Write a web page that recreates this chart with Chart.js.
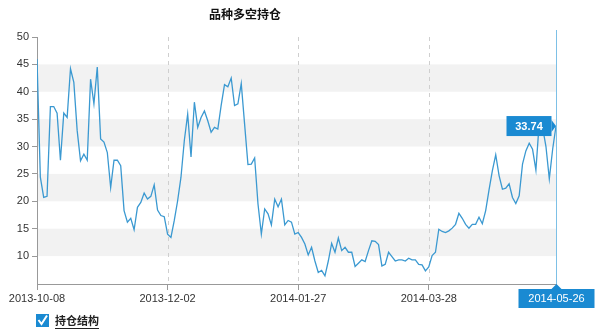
<!DOCTYPE html>
<html>
<head>
<meta charset="utf-8">
<script src="https://cdn.jsdelivr.net/npm/chart.js@4.4.1/dist/chart.umd.min.js"></script>
<style>
  html, body { margin: 0; padding: 0; background: #fff; }
  #wrap { width: 601px; height: 335px; position: relative; }
</style>
</head>
<body>
<div id="wrap"><canvas id="grafico"></canvas></div>
<script>
"use strict";

var titulo = '品种多空持仓';
var serieNombre = '持仓结构';

/* valores, un punto por sesión */
var valores = [
  46, 24.4, 20.7, 20.9, 37.3, 37.3, 36.1, 27.5, 36.1, 35.3,
  44.2, 41.7, 32.9, 27.4, 28.6, 27.5, 42.3, 37.8, 44.5, 31.4,
  30.8, 28.9, 22.5, 27.5, 27.5, 26.5, 18.3, 16.2, 16.9, 14.8,
  18.9, 19.8, 21.5, 20.4, 20.9, 23.0, 18.4, 17.4, 17.2, 14.0,
  13.4, 16.5, 20.1, 24.4, 31.1, 35.9, 28.1, 38.1, 33.5, 35.3,
  36.5, 34.7, 32.6, 33.5, 33.2, 37.5, 41.3, 40.9, 42.5, 37.5,
  37.8, 41.5, 34.1, 26.7, 26.8, 27.9, 19.5, 14.0, 18.6, 17.7,
  15.7, 20.4, 19.0, 20.4, 15.7, 16.5, 16.2, 14.0, 14.3,
  13.4, 12.2, 10.2, 11.6, 9.1, 7.0, 7.4, 6.4, 9.1, 12.3,
  10.7, 13.3, 11.0, 11.6, 10.7, 10.7, 8.1, 8.7, 9.3, 9.0,
  11.0, 12.8, 12.7, 12.1, 8.2, 8.5, 10.7, 9.9, 9.1, 9.3,
  9.3, 9.1, 9.6, 9.3, 9.3, 8.5, 8.4, 7.3, 8.0,
  10.1, 10.7, 14.9, 14.5, 14.3, 14.6, 15.1, 15.8, 17.8, 16.9,
  15.8, 15.1, 15.8, 15.8, 17.1, 15.9, 18.3, 22.1, 25.6, 28.5,
  24.7, 22.2, 22.4, 23.2, 20.7, 19.6, 21.0, 26.8, 29.2, 30.6,
  29.5, 25.7, 34.5, 33.5, 30.0, 24.1, 29.5, 33.74
];

var ticksPos = [0, 39, 78, 117, 155];
var ticksTxt = ['2013-10-08', '2013-12-02', '2014-01-27', '2014-03-28', '2014-05-26'];
var ticksY = [10, 15, 20, 25, 30, 35, 40, 45, 50];
var bandas = [[10, 15], [20, 25], [30, 35], [40, 45]];

var AZUL = '#1a8ad2';
var FUENTE = '"Liberation Sans", Arial, sans-serif';
var FUENTE_CJK = '"Noto Sans CJK SC", sans-serif';

/* bandas grises y líneas punteadas detrás de la serie */
var fondo = {
  id: 'fondo',
  beforeDatasetsDraw: function(chart) {
    var ctx = chart.ctx, a = chart.chartArea;
    var sx = chart.scales.x, sy = chart.scales.y;
    ctx.save();
    ctx.fillStyle = '#f2f2f2';
    bandas.forEach(function(b) {
      var t = sy.getPixelForValue(b[1]), d = sy.getPixelForValue(b[0]);
      ctx.fillRect(a.left + 1, t, a.right - a.left - 1, d - t);
    });
    ctx.strokeStyle = '#cfcfcf';
    ctx.lineWidth = 1;
    ctx.setLineDash([4, 4]);
    ticksPos.slice(1, -1).forEach(function(p) {
      var px = Math.round(sx.getPixelForValue(p)) + 0.5;
      ctx.beginPath();
      ctx.moveTo(px, a.top);
      ctx.lineTo(px, a.bottom);
      ctx.stroke();
    });
    ctx.restore();
  }
};

/* título, cursor, etiquetas azules y leyenda */
var extras = {
  id: 'extras',
  afterDraw: function(chart) {
    var ctx = chart.ctx, a = chart.chartArea;
    var sx = chart.scales.x, sy = chart.scales.y;
    var n = valores.length - 1;
    var px = Math.round(sx.getPixelForValue(n)) + 0.5;
    var py = sy.getPixelForValue(valores[n]);
    ctx.save();

    // título
    ctx.fillStyle = '#111';
    ctx.font = 'bold 12px ' + FUENTE_CJK;
    ctx.textAlign = 'center';
    ctx.textBaseline = 'middle';
    ctx.fillText(titulo, 245, 14);

    // línea del cursor
    ctx.strokeStyle = '#7dc0e6';
    ctx.lineWidth = 1;
    ctx.beginPath();
    ctx.moveTo(px, a.top - 7);
    ctx.lineTo(px, a.bottom);
    ctx.stroke();

    // etiqueta de valor
    ctx.fillStyle = AZUL;
    var bx = px - 50, bw = 45, bh = 20;
    ctx.fillRect(bx, py - bh / 2, bw, bh);
    ctx.beginPath();
    ctx.moveTo(bx + bw, py - 6);
    ctx.lineTo(px - 0.5, py);
    ctx.lineTo(bx + bw, py + 6);
    ctx.closePath();
    ctx.fill();
    ctx.fillStyle = '#fff';
    ctx.font = 'bold 11px ' + FUENTE;
    ctx.fillText(String(valores[n]), bx + bw / 2, py + 0.5);

    // etiqueta de fecha
    var dy = a.bottom;
    ctx.fillStyle = AZUL;
    ctx.fillRect(px - 38, dy + 5, 76, 19);
    ctx.beginPath();
    ctx.moveTo(px - 5, dy + 5);
    ctx.lineTo(px, dy);
    ctx.lineTo(px + 5, dy + 5);
    ctx.closePath();
    ctx.fill();
    ctx.fillStyle = '#fff';
    ctx.font = '11px ' + FUENTE;
    ctx.fillText(ticksTxt[ticksTxt.length - 1], px, dy + 15);

    // leyenda con casilla marcada
    ctx.fillStyle = AZUL;
    ctx.fillRect(36, 314, 13, 13);
    ctx.strokeStyle = '#fff';
    ctx.lineWidth = 2;
    ctx.beginPath();
    ctx.moveTo(38.5, 320);
    ctx.lineTo(41.5, 324);
    ctx.lineTo(47, 315.5);
    ctx.stroke();
    ctx.fillStyle = '#222';
    ctx.font = 'bold 11px ' + FUENTE_CJK;
    ctx.textAlign = 'left';
    ctx.fillText(serieNombre, 55, 321);
    var w = ctx.measureText(serieNombre).width;
    ctx.fillRect(55, 328, w, 1);

    ctx.restore();
  }
};

new Chart(document.getElementById('grafico'), {
  type: 'line',
  data: {
    datasets: [{
      label: serieNombre,
      data: valores.map(function(v, i) { return { x: i, y: v }; }),
      borderColor: '#3b99d1',
      borderWidth: 1.3,
      pointRadius: 0,
      tension: 0,
      fill: false
    }]
  },
  options: {
    responsive: true,
    maintainAspectRatio: false,
    animation: false,
    layout: { padding: { top: 37, right: 45, bottom: 27, left: 0 } },
    plugins: {
      legend: { display: false },
      title: { display: false },
      tooltip: { enabled: false }
    },
    scales: {
      x: {
        type: 'linear',
        min: 0,
        max: valores.length - 1,
        afterBuildTicks: function(s) {
          s.ticks = ticksPos.map(function(v) { return { value: v }; });
        },
        afterFit: function(s) { s.height = 24; },
        ticks: {
          autoSkip: false,
          maxRotation: 0,
          padding: 2,
          color: '#333',
          font: { family: FUENTE, size: 11 },
          callback: function(v) {
            var k = ticksPos.indexOf(v);
            return (k < 0 || k === ticksPos.length - 1) ? '' : ticksTxt[k];
          }
        },
        grid: { drawOnChartArea: false, tickLength: 6, tickColor: '#999' },
        border: { color: '#999' }
      },
      y: {
        min: 4.9,
        max: 50,
        afterBuildTicks: function(s) {
          s.ticks = ticksY.map(function(v) { return { value: v }; });
        },
        afterFit: function(s) { s.width = 37; },
        ticks: {
          padding: 3,
          color: '#333',
          font: { family: FUENTE, size: 11 }
        },
        grid: { drawOnChartArea: false, tickLength: 5, tickColor: '#999' },
        border: { color: '#999' }
      }
    }
  },
  plugins: [fondo, extras]
});
</script>
</body>
</html>
